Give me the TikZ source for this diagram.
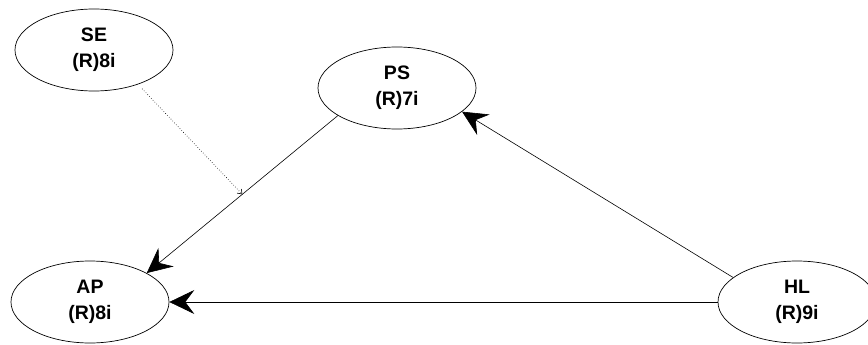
\documentclass[tikz,border=0pt]{standalone}
\usepackage{fontspec}
\setmainfont{Liberation Sans}
\usetikzlibrary{shapes.geometric,arrows.meta}
\begin{document}
\begin{tikzpicture}[x=1pt,y=-1pt,
  construct/.style={ellipse,draw,line width=0.7pt,minimum width=158pt,minimum height=82pt,
    inner sep=0pt,align=center,font=\fontsize{19.5}{26}\selectfont\bfseries},
  path/.style={draw,line width=0.6pt,-{Stealth[length=25pt,width=24pt,inset=9pt]}},
  weak/.style={draw,line width=0.6pt,dotted,-{Straight Barb[length=4pt,width=6pt]}}]
\useasboundingbox (0,0) rectangle (868,345);
\node[construct] (SE) at (94,50)  {SE\\(R)8i};
\node[construct] (PS) at (397,88) {PS\\(R)7i};
\node[construct] (AP) at (90,302) {AP\\(R)8i};
\node[construct] (HL) at (797,302) {HL\\(R)9i};
\draw[path] (PS.205) -- coordinate[pos=0.5] (mid) (AP.27);
\draw[path] (HL.159) -- (PS.340);
\draw[path] (HL.west) -- (AP.east);
\draw[weak,shorten <=6pt] (SE.-38) -- (mid);
\end{tikzpicture}
\end{document}
